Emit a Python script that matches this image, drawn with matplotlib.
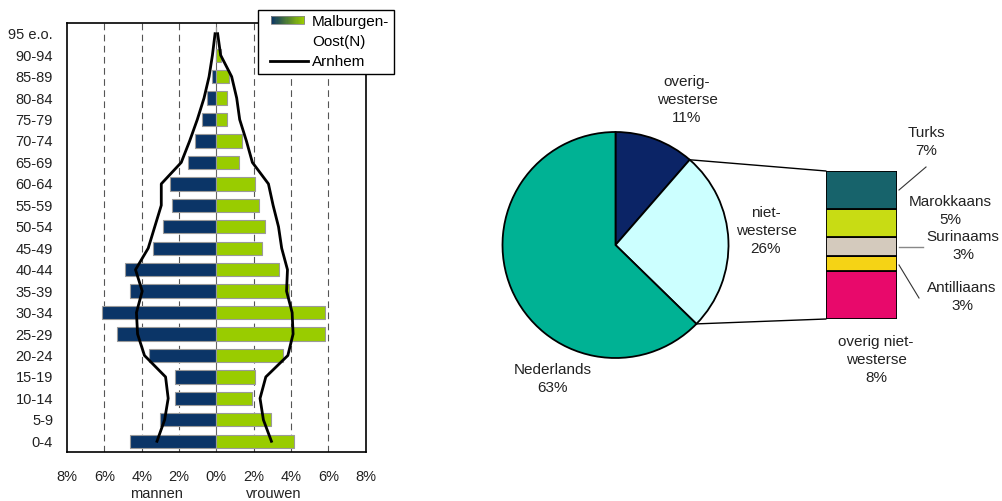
import numpy as np
import matplotlib
matplotlib.use("Agg")
import matplotlib.pyplot as plt
from matplotlib.patches import Rectangle, Patch
from matplotlib.lines import Line2D
from matplotlib.legend_handler import HandlerBase
from matplotlib.patches import ConnectionPatch
import matplotlib.colors as mcolors

plt.rcParams['font.family'] = ['Liberation Sans', 'DejaVu Sans']
plt.rcParams['font.size'] = 10

# ---------------- data ----------------
age_groups = ["0-4", "5-9", "10-14", "15-19", "20-24", "25-29", "30-34", "35-39",
              "40-44", "45-49", "50-54", "55-59", "60-64", "65-69", "70-74",
              "75-79", "80-84", "85-89", "90-94", "95 e.o."]
malburgen_men = [4.65, 3.0, 2.24, 2.24, 3.61, 5.33, 6.10, 4.63, 4.87, 3.40,
                 2.86, 2.40, 2.47, 1.52, 1.16, 0.77, 0.52, 0.21, 0.02, 0.0]
malburgen_women = [4.17, 2.92, 1.93, 2.08, 3.56, 5.80, 5.80, 3.90, 3.33, 2.47,
                   2.61, 2.31, 2.08, 1.23, 1.38, 0.55, 0.55, 0.68, 0.23, 0.0]
arnhem_men = [3.18, 2.77, 2.58, 2.72, 3.85, 4.22, 4.28, 3.97, 4.33, 3.65,
              3.30, 2.95, 2.95, 1.88, 1.43, 1.02, 0.66, 0.39, 0.21, 0.07]
arnhem_women = [2.95, 2.52, 2.34, 2.65, 3.83, 4.11, 4.06, 3.76, 3.81, 3.50,
                3.33, 3.04, 2.79, 1.93, 1.61, 1.25, 1.09, 0.82, 0.23, 0.07]
x_ticks = [-8, -6, -4, -2, 0, 2, 4, 6, 8]
x_ticklabels = ["8%", "6%", "4%", "2%", "0%", "2%", "4%", "6%", "8%"]

pie_labels = ["overig-\nwesterse\n11%", "niet-\nwesterse\n26%", "Nederlands\n63%"]
pie_values = [11.4, 25.9, 62.7]
pie_colors = ["#0B2466", "#CCFFFF", "#00B294"]

sub_labels = ["overig niet-\nwesterse\n8%", "Antilliaans\n3%", "Surinaams\n3%",
              "Marokkaans\n5%", "Turks\n7%"]
sub_values = [8.4, 2.6, 3.3, 4.9, 6.7]
sub_colors = ["#E8096B", "#F5D315", "#D4CABD", "#C8DC14", "#17636B"]

W, H = 1003, 501
fig = plt.figure(figsize=(W / 100, H / 100), dpi=100)

# ---------------- pie (pixel coordinate axes) ----------------
axp = fig.add_axes([0, 0, 1, 1])
cx, cy, r = 615.5, H - 245, 113
axp.pie(pie_values, colors=pie_colors, startangle=90, counterclock=False,
        center=(cx, cy), radius=r, frame=True,
        wedgeprops=dict(edgecolor="black", linewidth=1.3))
axp.set_xlim(0, W)
axp.set_ylim(0, H)
axp.axis("off")

def ptext(x, y, s, **kw):
    axp.text(x, H - y, s, ha="center", va="center", fontsize=11,
             color="#222222", linespacing=1.4, **kw)

ptext(687, 100, pie_labels[0])
ptext(766, 231, pie_labels[1])
ptext(553, 379, pie_labels[2])

# ---------------- stacked bar ----------------
axb = fig.add_axes([826 / W, 1 - 319 / H, 71 / W, 148 / H])
bottom = 0
for v, c in zip(sub_values, sub_colors):
    axb.bar(0, v, bottom=bottom, width=1, color=c, edgecolor="black", linewidth=1.3)
    bottom += v
axb.set_xlim(-0.5, 0.5)
axb.set_ylim(0, sum(sub_values))
axb.axis("off")

# connectors
a1 = np.deg2rad(90 - pie_values[0] / 100 * 360)
a2 = np.deg2rad(90 - (pie_values[0] + pie_values[1]) / 100 * 360)
for ang, yb in [(a1, sum(sub_values)), (a2, 0)]:
    con = ConnectionPatch(xyA=(cx + r * np.cos(ang), cy + r * np.sin(ang)), coordsA=axp.transData,
                          xyB=(-0.5, yb), coordsB=axb.transData, color="black", lw=1)
    fig.add_artist(con)

ptext(926, 142, sub_labels[4])
ptext(950, 211, sub_labels[3])
ptext(963, 246, sub_labels[2])
ptext(962, 297, sub_labels[1])
ptext(876, 360, sub_labels[0])
# leader lines
axp.plot([926, 899], [H - 167, H - 190], color="#333333", lw=0.8)
axp.plot([899, 923], [H - 247, H - 247], color="#888888", lw=1)
axp.plot([899, 919], [H - 265, H - 298], color="#333333", lw=0.8)

# ---------------- population pyramid ----------------
ax = fig.add_axes([67 / W, 1 - 452 / H, (365.7 - 67) / W, (452 - 23) / H])
y = np.arange(len(age_groups))
ax.barh(y, -np.array(malburgen_men), height=0.62, color="#0B3567",
        edgecolor="#9A9A9A", linewidth=0.8, zorder=3)
ax.barh(y, malburgen_women, height=0.62, color="#99CC00",
        edgecolor="#9A9A9A", linewidth=0.8, zorder=3)
ax.plot(-np.array(arnhem_men), y, color="black", lw=2, zorder=4)
ax.plot(arnhem_women, y, color="black", lw=2, zorder=4)
for g in [-6, -4, -2, 2, 4, 6]:
    ax.axvline(g, color="#555555", lw=0.8, ls=(0, (6, 4)), zorder=1)
ax.axvline(0, color="#666666", lw=0.8, zorder=2)
ax.set_xlim(-8, 8)
ax.set_ylim(-0.5, 19.5)
ax.set_xticks(x_ticks)
ax.set_xticklabels(x_ticklabels)
ax.set_yticks(y)
ax.set_yticklabels(age_groups)
ax.tick_params(axis="x", length=0, pad=13, labelsize=10.5, colors="#222222")
ax.tick_params(axis="y", length=0, pad=10, labelsize=10.5, colors="#222222")
for s in ax.spines.values():
    s.set_color("black")
    s.set_linewidth(1.2)

fig.text(156 / W, 1 - 500.5 / H, "mannen", ha="center", va="bottom", fontsize=10.5, color="#222222")
fig.text(274 / W, 1 - 500.5 / H, "vrouwen", ha="center", va="bottom", fontsize=10.5, color="#222222")

# legend with gradient patch
OFF = 6  # px inset of handles inside the legend box

class GradientHandler(HandlerBase):
    def create_artists(self, legend, orig_handle, xdescent, ydescent, width,
                       height, fontsize, trans):
        cmap = mcolors.LinearSegmentedColormap.from_list("g", ["#0B3567", "#99CC00"])
        n = 30
        arts = []
        h = height * 0.75
        y0 = -ydescent + (height - h) / 2
        x0 = -xdescent + OFF
        w = width - OFF - 3
        for i in range(n):
            arts.append(Rectangle((x0 + i * w / n, y0), w / n + 0.3, h,
                                  facecolor=cmap(i / (n - 1)), edgecolor="none", transform=trans))
        arts.append(Rectangle((x0, y0), w, h, facecolor="none",
                              edgecolor="#888888", lw=0.6, transform=trans))
        return arts

class LineHandler(HandlerBase):
    def create_artists(self, legend, orig_handle, xdescent, ydescent, width,
                       height, fontsize, trans):
        yc = -ydescent + height / 2
        ln = Line2D([-xdescent + OFF - 1, -xdescent + width], [yc, yc], color="black",
                    lw=2, transform=trans)
        return [ln]

class BlankHandler(HandlerBase):
    def create_artists(self, legend, orig_handle, xdescent, ydescent, width,
                       height, fontsize, trans):
        return [Rectangle((0, 0), 0, 0, facecolor="none", edgecolor="none",
                          transform=trans, visible=False)]

class BlankProxy:
    pass

handles = [Patch(), BlankProxy(), Line2D([], [], color="black", lw=2)]
labels = ["Malburgen-", "Oost(N)", "Arnhem"]
leg = fig.legend(handles, labels, loc="upper left",
                 bbox_to_anchor=(258 / W, 1 - 10 / H), bbox_transform=fig.transFigure,
                 handler_map={Patch: GradientHandler(), BlankProxy: BlankHandler(),
                              Line2D: LineHandler()},
                 fancybox=False, edgecolor="black", framealpha=1, fontsize=11,
                 handlelength=3.0, handletextpad=0.25, labelspacing=0.42,
                 borderpad=0.3, borderaxespad=0)
leg.get_frame().set_linewidth(1.0)

fig.savefig("out.png", dpi=100)
